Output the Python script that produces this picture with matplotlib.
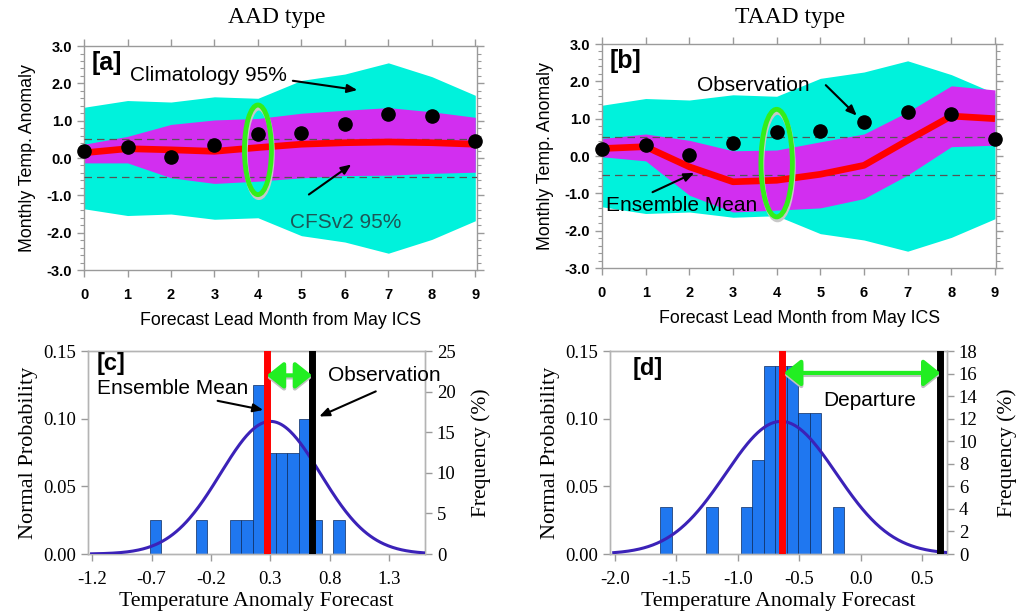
import numpy as np
import matplotlib
matplotlib.use("Agg")
import matplotlib.pyplot as plt
from matplotlib.patches import Ellipse, FancyArrowPatch
from matplotlib.ticker import MultipleLocator

# ---------------- data ----------------
lead = [0, 1, 2, 3, 4, 5, 6, 7, 8, 9]
clim95 = [1.36, 1.54, 1.50, 1.64, 1.60, 2.08, 2.25, 2.55, 2.18, 1.68]
obs = [0.18, 0.29, 0.03, 0.36, 0.65, 0.67, 0.91, 1.18, 1.12, 0.46]

aad_mean = [0.14, 0.25, 0.22, 0.18, 0.28, 0.37, 0.41, 0.43, 0.41, 0.37]
aad_upper = [0.37, 0.58, 0.90, 1.02, 1.06, 1.20, 1.28, 1.35, 1.24, 1.09]
aad_lower = [-0.13, -0.13, -0.53, -0.68, -0.62, -0.53, -0.47, -0.46, -0.41, -0.38]

taad_mean = [0.20, 0.25, -0.29, -0.69, -0.65, -0.49, -0.25, 0.42, 1.07, 1.00]
taad_upper = [0.47, 0.59, 0.42, 0.14, 0.16, 0.38, 0.59, 1.18, 1.88, 1.77]
taad_lower = [-0.02, -0.13, -1.05, -1.50, -1.45, -1.39, -1.14, -0.51, 0.25, 0.29]

n_members = 24
c_bin_centers = [-0.666, -0.280, 0.007, 0.104, 0.200, 0.297, 0.393, 0.490, 0.586, 0.683, 0.876]
c_counts = [1, 1, 1, 1, 5, 3, 3, 3, 4, 1, 1]
c_bin_width = 0.0965
c_ens_mean = 0.27
c_obs = 0.65
c_fit = dict(mean=0.30, sd=0.42, peak=0.098)

d_bin_centers = [-1.585, -1.212, -0.931, -0.838, -0.744, -0.651, -0.557, -0.464, -0.370, -0.183]
d_counts = [1, 1, 1, 2, 4, 4, 4, 3, 3, 1]
d_bin_width = 0.0935
d_ens_mean = -0.645
d_obs = 0.645
d_fit = dict(mean=-0.65, sd=0.45, peak=0.098)

# ---------------- style ----------------
SANS = ["Liberation Sans", "DejaVu Sans"]
SERIF = ["Liberation Serif", "DejaVu Serif"]
CYAN = "#00f2dc"
PURPLE = "#d22ef0"
RED = "#ff0000"
GREEN = "#33ee1a"
BLUE = "#1f77f0"
CURVE = "#3b22b8"
GRAY = "#9a9a9a"
ARROW = dict(arrowstyle="-|>,head_length=0.6,head_width=0.25", color="black", lw=1.5)

fig = plt.figure(figsize=(10.21, 6.13), dpi=100)


def top_panel(pos, mean, upper, lower, label):
    ax = fig.add_axes(pos)
    ax.fill_between(lead, [-v for v in clim95], clim95, color=CYAN, lw=0, zorder=1)
    ax.fill_between(lead, lower, upper, color=PURPLE, lw=0, zorder=2)
    for yv in (0.5, -0.5):
        ax.axhline(yv, color="#555555", lw=0.9, ls=(0, (6, 4)), zorder=3)
    ax.plot(lead, mean, color=RED, lw=4.8, zorder=4, solid_capstyle="butt")
    ax.plot(lead, obs, "o", color="black", ms=9.5, zorder=6, clip_on=False)
    ax.set_xlim(0, 9.03)
    ax.set_ylim(-3, 3)
    ax.xaxis.set_major_locator(MultipleLocator(1))
    ax.yaxis.set_minor_locator(MultipleLocator(0.2))
    ax.set_yticks([-3, -2, -1, 0, 1, 2, 3])
    ax.set_yticklabels(["-3.0", "-2.0", "-1.0", "0.0", "1.0", "2.0", "3.0"])
    ax.tick_params(which="both", direction="out", color=GRAY, top=True, right=True,
                   labeltop=False, labelright=False)
    ax.tick_params(which="major", length=5, width=1)
    ax.tick_params(which="minor", length=3, width=0.8)
    ax.tick_params(axis="x", which="minor", length=0)
    for lab in ax.get_xticklabels() + ax.get_yticklabels():
        lab.set_fontfamily(SANS)
        lab.set_fontweight("bold")
        lab.set_fontsize(10.5)
    ax.tick_params(axis="x", pad=8)
    for s in ax.spines.values():
        s.set_color(GRAY)
        s.set_linewidth(1)
    ax.set_ylabel("Monthly Temp. Anomaly", family=SANS, fontsize=12.8, labelpad=8)
    ax.set_xlabel("Forecast Lead Month from May ICS", family=SANS, fontsize=12.8, labelpad=7)
    ax.text(0.17, 2.55, label, family=SANS, fontsize=18, fontweight="bold", va="center", ha="left", zorder=7)
    return ax


# (a)
axa = top_panel([0.0823, 0.5595, 0.3845, 0.3654], aad_mean, aad_upper, aad_lower, "[a]")
axa.text(1.05, 2.21, "Climatology 95%", family=SANS, fontsize=15, va="center", ha="left", zorder=7)
axa.annotate("", xy=(6.35, 1.81), xytext=(4.74, 2.08), arrowprops=ARROW, zorder=7)
axa.text(4.74, -1.72, "CFSv2 95%", family=SANS, fontsize=15, color="#1d5656", va="center", ha="left", zorder=7)
axa.annotate("", xy=(6.2, -0.13), xytext=(5.12, -1.02), arrowprops=ARROW, zorder=7)
axa.add_patch(Ellipse((4.02, 0.14), 0.62, 2.4, fill=False, ec="#c8c8c8", lw=3.5, zorder=6))
axa.add_patch(Ellipse((4.0, 0.22), 0.62, 2.4, fill=False, ec=GREEN, lw=3.5, zorder=7))

# (b)
axb = top_panel([0.5896, 0.5628, 0.3862, 0.3654], taad_mean, taad_upper, taad_lower, "[b]")
axb.text(2.17, 1.9, "Observation", family=SANS, fontsize=15, va="center", ha="left", zorder=7)
axb.annotate("", xy=(5.88, 1.03), xytext=(5.08, 1.95), arrowprops=ARROW, zorder=7)
axb.text(0.1, -1.32, "Ensemble Mean", family=SANS, fontsize=15, va="center", ha="left", zorder=7)
axb.annotate("", xy=(2.17, -0.42), xytext=(1.1, -1.0), arrowprops=ARROW, zorder=7)
axb.add_patch(Ellipse((4.02, -0.27), 0.72, 2.88, fill=False, ec="#c8c8c8", lw=3.5, zorder=6))
axb.add_patch(Ellipse((4.0, -0.19), 0.72, 2.88, fill=False, ec=GREEN, lw=3.5, zorder=7))

# titles
fig.text(277 / 1021, 1 - 18 / 613, "AAD type", family=SERIF, fontsize=17, ha="center", va="center")
fig.text(790 / 1021, 1 - 18 / 613, "TAAD type", family=SERIF, fontsize=17, ha="center", va="center")


def bottom_panel(pos, xlim, xticks, xticklabels, freq_max, freq_step, centers, counts, width,
                 fit, ens_mean, obs_val, label, label_xy, right_pad):
    ax = fig.add_axes(pos)
    ax2 = ax.twinx()
    ax.set_zorder(ax2.get_zorder() + 1)
    ax.patch.set_visible(False)
    freq = [c / n_members * 100 for c in counts]
    ax2.bar(centers, freq, width=width, color=BLUE, edgecolor="#0a2a60", lw=0.5, zorder=2)
    ax2.set_ylim(0, freq_max)
    ax2.set_yticks(np.arange(0, freq_max + 0.1, freq_step))
    ax2.set_ylabel("Frequency (%)", family=SERIF, fontsize=15.5, labelpad=right_pad)
    xs = np.linspace(xlim[0] + 0.03, xlim[1], 300)
    ys = fit["peak"] * np.exp(-0.5 * ((xs - fit["mean"]) / fit["sd"]) ** 2)
    ax.plot(xs, ys, color=CURVE, lw=2.2, zorder=3)
    ax.axvline(ens_mean, color=RED, lw=5, zorder=4)
    ax.axvline(obs_val, color="black", lw=5, zorder=4)
    ax.set_xlim(*xlim)
    ax.set_ylim(0, 0.15)
    ax.set_yticks([0, 0.05, 0.10, 0.15])
    ax.set_yticklabels(["0.00", "0.05", "0.10", "0.15"])
    ax.set_xticks(xticks)
    ax.set_xticklabels(xticklabels)
    ax.set_ylabel("Normal Probability", family=SERIF, fontsize=16, labelpad=4)
    ax.set_xlabel("Temperature Anomaly Forecast", family=SERIF, fontsize=15.7, labelpad=3)
    for a in (ax, ax2):
        a.tick_params(direction="out", color=GRAY, length=5, width=1)
        for lab in a.get_xticklabels() + a.get_yticklabels():
            lab.set_fontfamily(SERIF)
            lab.set_fontsize(13.5)
        for s in a.spines.values():
            s.set_color("#b4b4b4")
            s.set_linewidth(1)
    ax.tick_params(axis="x", pad=7)
    ax.text(label_xy[0], label_xy[1], label, family=SANS, fontsize=17,
            fontweight="bold", va="center", ha="left", zorder=7)
    return ax, ax2


def double_arrow(ax, x0, x1, y):
    ax.add_patch(FancyArrowPatch((x0, y - 0.0015), (x1, y - 0.0015),
                                 arrowstyle="<|-|>,head_length=4,head_width=3.2", mutation_scale=2.5,
                                 color="#c0c0c0", lw=3, shrinkA=0, shrinkB=0, zorder=5))
    ax.add_patch(FancyArrowPatch((x0, y), (x1, y),
                                 arrowstyle="<|-|>,head_length=4,head_width=3.2", mutation_scale=2.5,
                                 color="#22ee22", lw=3, shrinkA=0, shrinkB=0, zorder=6))


# (c)
axc, axc2 = bottom_panel([0.0862, 0.0962, 0.3301, 0.3312], (-1.234, 1.6),
                         [-1.2, -0.7, -0.2, 0.3, 0.8, 1.3], ["-1.2", "-0.7", "-0.2", "0.3", "0.8", "1.3"],
                         25, 5, c_bin_centers, c_counts, c_bin_width, c_fit, c_ens_mean, c_obs, "[c]",
                         (-1.16, 0.1405), 11)
axc.text(-1.16, 0.122, "Ensemble Mean", family=SANS, fontsize=15, va="center", ha="left", zorder=7)
axc.text(0.787, 0.132, "Observation", family=SANS, fontsize=15, va="center", ha="left", zorder=7)
axc.annotate("", xy=(0.262, 0.106), xytext=(-0.167, 0.1136), arrowprops=ARROW, zorder=7)
axc.annotate("", xy=(0.689, 0.1008), xytext=(1.207, 0.121), arrowprops=ARROW, zorder=7)
double_arrow(axc, c_ens_mean, c_obs, 0.132)

# (d)
axd, axd2 = bottom_panel([0.5975, 0.0962, 0.3301, 0.3312], (-2.04, 0.70),
                         [-2.0, -1.5, -1.0, -0.5, 0.0, 0.5], ["-2.0", "-1.5", "-1.0", "-0.5", "0.0", "0.5"],
                         18, 2, d_bin_centers, d_counts, d_bin_width, d_fit, d_ens_mean, d_obs, "[d]",
                         (-1.86, 0.137), 14)
axd.text(0.07, 0.1136, "Departure", family=SANS, fontsize=15, va="center", ha="center", zorder=7)
double_arrow(axd, d_ens_mean + 0.02, d_obs, 0.1338)

fig.savefig("out.png", dpi=100)
